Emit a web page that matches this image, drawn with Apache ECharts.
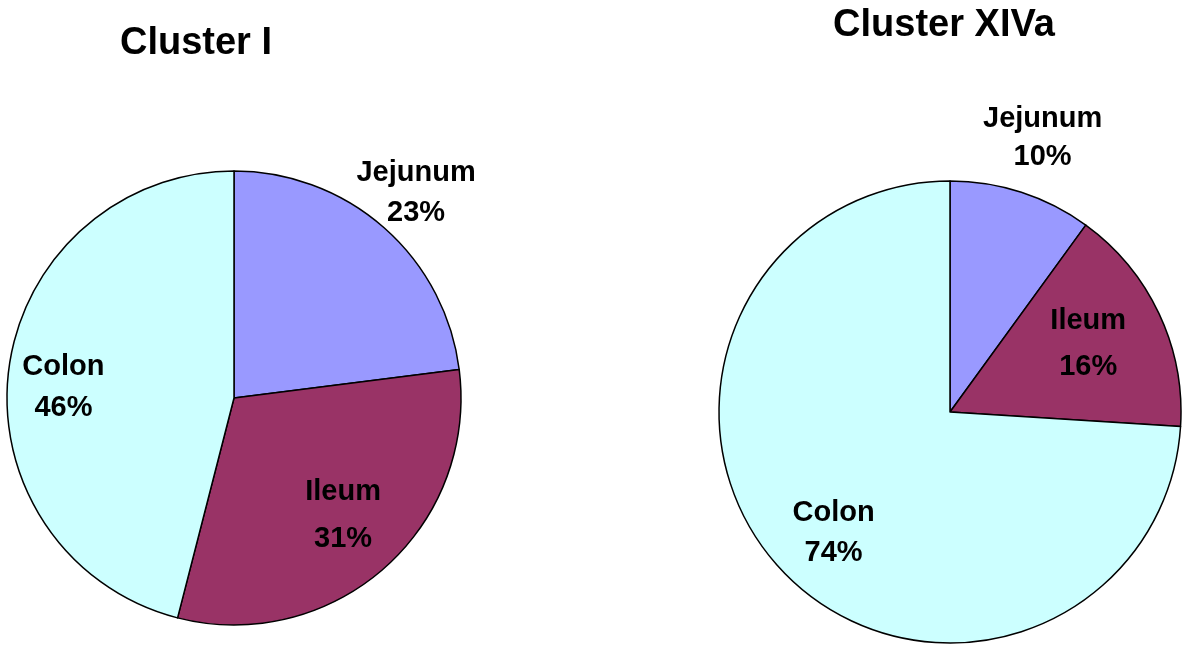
<!DOCTYPE html>
<html>
<head>
<meta charset="utf-8">
<script src="https://cdn.jsdelivr.net/npm/echarts@6/dist/echarts.min.js"></script>
<style>
    html, body { margin: 0; padding: 0; background: #fff; }
    #chart { width: 1183px; height: 655px; }
</style>
</head>
<body>
<div id="chart"></div>
<script>
// data
var segments = ['Jejunum', 'Ileum', 'Colon'];
var clusterI = [23, 31, 46];
var clusterXIVa = [10, 16, 74];
var titles = ['Cluster I', 'Cluster XIVa'];

var colors = ['#9999FF', '#993366', '#CCFFFF'];

// label tweaks per slice (offset from default inside spot, line gap)
var labelI = [
    { offset: [105, -118], lh: 40 },
    { offset: [32, 30], lh: 47 },
    { offset: [-55, 4], lh: 41 }
];
var labelXIVa = [
    { offset: [56, -161], lh: 38 },
    { offset: [31, -18], lh: 46 },
    { offset: [-30, 40], lh: 40 }
];

function buildData(values, tweaks) {
    return segments.map(function (name, i) {
        return {
            name: name,
            value: values[i],
            itemStyle: { color: colors[i] },
            label: { offset: tweaks[i].offset, lineHeight: tweaks[i].lh }
        };
    });
}

var pieBase = {
    type: 'pie',
    startAngle: 90,
    clockwise: true,
    silent: true,
    animation: false,
    itemStyle: { borderColor: '#000', borderWidth: 1.5 },
    labelLine: { show: false },
    label: {
        show: true,
        position: 'inside',
        color: '#000',
        fontFamily: 'Liberation Sans, Arial, sans-serif',
        fontWeight: 'bold',
        fontSize: 29,
        formatter: function (p) { return p.name + '\n' + p.value + '%'; }
    }
};

var titleStyle = { fontFamily: 'Liberation Sans, Arial', fontWeight: 'bold', fontSize: 38, color: '#000' };

var chart = echarts.init(document.getElementById('chart'));
var option = {
    backgroundColor: '#fff',
    title: [
        { text: titles[0], left: 191, top: 20, textAlign: 'center', textStyle: titleStyle },
        { text: titles[1], left: 939, top: 2, textAlign: 'center', textStyle: titleStyle }
    ],
    series: [
        Object.assign({}, pieBase, {
            name: titles[0],
            center: [234, 398],
            radius: 227,
            data: buildData(clusterI, labelI)
        }),
        Object.assign({}, pieBase, {
            name: titles[1],
            center: [950, 412],
            radius: 231,
            data: buildData(clusterXIVa, labelXIVa)
        })
    ]
};
chart.setOption(option);
</script>
</body>
</html>
